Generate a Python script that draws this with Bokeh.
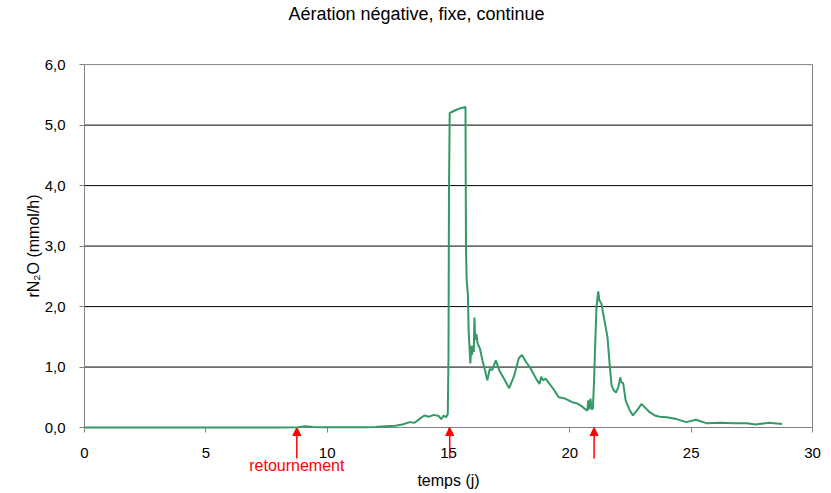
from bokeh.plotting import figure
from bokeh.models import Range1d, FixedTicker, Arrow, NormalHead, Label
from bokeh.embed import file_html
from bokeh.resources import INLINE

TITLE = "Aération négative, fixe, continue"
X_LABEL = "temps (j)"
Y_LABEL = "rN₂O (mmol/h)"

x_ticks = [0, 5, 10, 15, 20, 25, 30]
y_ticks = [0, 1, 2, 3, 4, 5, 6]
y_tick_labels = ["0,0", "1,0", "2,0", "3,0", "4,0", "5,0", "6,0"]

# days of turning events (red arrows)
retournement_j = [8.75, 15.05, 21.0]
retournement_text = "retournement"

temps = [0, 2, 4, 6, 8, 8.8, 9.1, 9.4, 9.8, 10.5, 11.5, 12.0, 12.4, 12.8, 13.1, 13.4,
         13.6, 13.8, 14.0, 14.2, 14.4, 14.6, 14.7, 14.8, 14.9, 14.97, 15.0, 15.02, 15.05,
         15.3, 15.5, 15.7, 15.72, 15.75, 15.8, 15.83, 15.87, 15.9, 15.94, 15.97, 16.0,
         16.04, 16.07, 16.1, 16.15, 16.2, 16.3, 16.4, 16.5, 16.6, 16.7, 16.8, 16.95, 17.1,
         17.3, 17.5, 17.7, 17.9, 18.03, 18.2, 18.35, 18.5, 18.65, 18.75, 18.82, 18.9, 19.0,
         19.15, 19.3, 19.55, 19.8, 20.1, 20.3, 20.5, 20.65, 20.72, 20.76, 20.8, 20.85, 20.9,
         20.95, 21.0, 21.05, 21.1, 21.17, 21.22, 21.3, 21.4, 21.55, 21.65, 21.72, 21.8, 21.9,
         22.0, 22.08, 22.12, 22.2, 22.3, 22.45, 22.6, 22.8, 22.95, 23.1, 23.3, 23.5, 23.7,
         24.0, 24.4, 24.8, 25.2, 25.65, 26.2, 26.75, 27.3, 27.65, 28.2, 28.75]
rN2O = [0, 0, 0, 0, 0, 0.005, 0.02, 0.01, 0.005, 0.005, 0.005, 0.01, 0.02, 0.03, 0.05, 0.09,
        0.08, 0.14, 0.2, 0.18, 0.21, 0.19, 0.14, 0.2, 0.17, 0.22, 1.2, 3.9, 5.2,
        5.25, 5.28, 5.3, 3.0, 2.43, 2.2, 1.6, 1.3, 1.06, 1.35, 1.2, 1.35,
        1.25, 1.82, 1.45, 1.55, 1.39, 1.3, 1.11, 0.95, 0.78, 0.97, 0.95, 1.11, 0.94,
        0.8, 0.65, 0.85, 1.15, 1.2, 1.08, 1.0, 0.89, 0.78, 0.72, 0.84, 0.78, 0.81,
        0.73, 0.65, 0.5, 0.48, 0.42, 0.4, 0.35, 0.3, 0.28, 0.45, 0.3, 0.48, 0.3,
        0.32, 0.78, 1.44, 2.0, 2.25, 2.1, 2.05, 1.83, 1.5, 1.0, 0.7, 0.62, 0.58,
        0.67, 0.83, 0.75, 0.73, 0.45, 0.3, 0.2, 0.3, 0.39, 0.33, 0.25, 0.2, 0.18,
        0.17, 0.14, 0.09, 0.13, 0.07, 0.08, 0.07, 0.07, 0.05, 0.08, 0.06]
assert len(temps) == len(rN2O)

FONT = "Liberation Sans"

# layout: the plotting frame covers the whole canvas, the 0..30 x 0..6 box sits inside it
PX_PER_DAY = 24.27
X_LEFT, X_RIGHT = -84 / PX_PER_DAY, 30 + 19 / PX_PER_DAY
Y_BOTTOM, Y_TOP = -1.09, 7.06
ARROW_Y0 = -0.51
LABEL_Y = -0.628
TITLE_X, TITLE_Y = 13.68, 6.837

p = figure(width=831, height=493, output_backend="svg", toolbar_location=None,
           title=None,
           x_range=Range1d(X_LEFT, X_RIGHT), y_range=Range1d(Y_BOTTOM, Y_TOP),
           min_border_left=0, min_border_right=0, min_border_top=0, min_border_bottom=0,
           background_fill_color="white", border_fill_color="white")

p.outline_line_color = None
p.xgrid.visible = False
p.ygrid.visible = False

# horizontal gridlines inside the plot box
grid_y = y_ticks[1:-1]
p.segment(x0=[x_ticks[0]] * len(grid_y), y0=grid_y,
          x1=[x_ticks[-1]] * len(grid_y), y1=grid_y,
          line_color="#000000", line_width=1, level="underlay")

# top and right borders of the plot box
p.segment(x0=[x_ticks[0], x_ticks[-1]], y0=[y_ticks[-1], y_ticks[0]],
          x1=[x_ticks[-1], x_ticks[-1]], y1=[y_ticks[-1], y_ticks[-1]],
          line_color="#808080", line_width=1, level="underlay")

p.xaxis.ticker = FixedTicker(ticks=x_ticks)
p.xaxis.fixed_location = 0
p.xaxis.bounds = (x_ticks[0], x_ticks[-1])
p.yaxis.ticker = FixedTicker(ticks=y_ticks)
p.yaxis.fixed_location = 0
p.yaxis.bounds = (y_ticks[0], y_ticks[-1])
p.yaxis.major_label_overrides = {t: l for t, l in zip(y_ticks, y_tick_labels)}

for ax in (p.xaxis[0], p.yaxis[0]):
    ax.axis_line_color = "#808080"
    ax.major_tick_line_color = "#808080"
    ax.minor_tick_line_color = None
    ax.major_tick_out = 5
    ax.major_tick_in = 0
    ax.major_label_text_font = FONT
    ax.major_label_text_font_size = "15px"
    ax.major_label_text_color = "#000000"
    ax.axis_label_text_font = FONT
    ax.axis_label_text_font_size = "16px"
    ax.axis_label_text_font_style = "normal"
    ax.axis_label_text_color = "#000000"

p.xaxis.axis_label = X_LABEL
p.yaxis.axis_label = Y_LABEL
p.xaxis.major_label_standoff = 15
p.yaxis.major_label_standoff = 14
p.xaxis.axis_label_standoff = 11
p.yaxis.axis_label_standoff = 0

p.line(temps, rN2O, line_color="#339966", line_width=2, level="overlay")

for xj in retournement_j:
    p.add_layout(Arrow(end=NormalHead(size=8, fill_color="#ff0000", line_color="#ff0000"),
                       x_start=xj, y_start=ARROW_Y0, x_end=xj, y_end=y_ticks[0],
                       line_color="#ff0000", line_width=1.5))

p.add_layout(Label(x=retournement_j[0], y=LABEL_Y, text=retournement_text,
                   text_align="center", text_baseline="middle",
                   text_color="#ff0000", text_font=FONT, text_font_size="16px"))

p.add_layout(Label(x=TITLE_X, y=TITLE_Y, text=TITLE,
                   text_align="center", text_baseline="middle",
                   text_color="#000000", text_font=FONT, text_font_size="18px"))

open("out.html", "w").write(file_html(p, INLINE))
